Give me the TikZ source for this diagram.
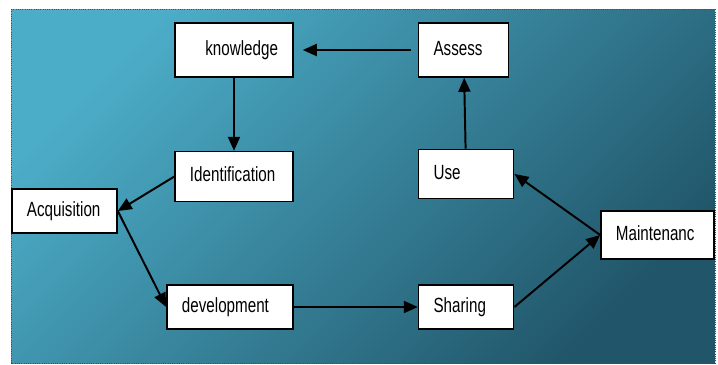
\documentclass[tikz,border=0pt]{standalone}
\usepackage{fontspec}
\setmainfont{Liberation Sans}
\usetikzlibrary{positioning,arrows.meta}

\definecolor{bgtop}{HTML}{4CADC8}
\definecolor{bgmid}{HTML}{3C90A9}
\definecolor{bgbottom}{HTML}{21566A}

\newcommand{\narrow}[1]{\scalebox{0.74}[1]{#1}}

\tikzset{
  stage/.style={draw, fill=white, line width=1.1pt, inner xsep=0.375cm, inner ysep=0pt,
    align=left, text height=0.36cm, text depth=0.1cm, font=\fontsize{14.6}{16}\selectfont},
  flow/.style={line width=1.4pt, -{Triangle[length=0.35cm,width=0.3cm]}}
}

\begin{document}
\begin{tikzpicture}[x=0.025cm, y=-0.025cm]
  \useasboundingbox (0,0) rectangle (718,364);
  \shade[top color=bgtop, middle color=bgmid, bottom color=bgbottom, shading angle=45] (11,9) rectangle (715,363);
  \draw[densely dotted, black!70, line width=0.6pt] (11,9) rectangle (715,363);

  \node[stage, align=right, text width=2.2cm, minimum height=1.35cm] (kn) at (234,50) {\narrow{knowledge}};
  \node[stage, text width=2.2cm, minimum height=1.25cm, below=1.825cm of kn] (id) {\narrow{Identification}};
  \node[stage, text width=1.875cm, minimum height=1.1cm] (acq) at (64.5,211) {\narrow{Acquisition}};
  \node[stage, text width=2.4cm, minimum height=1.1cm] (dev) at (230,307) {\narrow{development}};
  \node[stage, text width=1.625cm, minimum height=1.1cm, right=3.1cm of dev] (sh) {\narrow{Sharing}};
  \node[stage, text width=2.075cm, minimum height=1.2cm] (mt) at (657.5,235) {\narrow{Maintenanc}};
  \node[stage, text width=1.625cm, minimum height=1.225cm, above=2.125cm of sh] (use) {\narrow{Use}};
  \node[stage, text width=1.5cm, minimum height=1.35cm, right=3.1cm of kn] (as) {\narrow{Assess}};

  \draw[flow, shorten <=0.175cm, shorten >=0.225cm] (as) -- (kn);
  \draw[flow] (kn) -- (id);
  \draw[flow] (id.west) -- (acq.east);
  \draw[flow] (acq.east) -- (dev.west);
  \draw[flow] (dev) -- (sh);
  \draw[flow] (sh.east) -- (mt.west);
  \draw[flow] (mt.west) -- (use.east);
  \draw[flow] (use) -- (as);
\end{tikzpicture}
\end{document}
